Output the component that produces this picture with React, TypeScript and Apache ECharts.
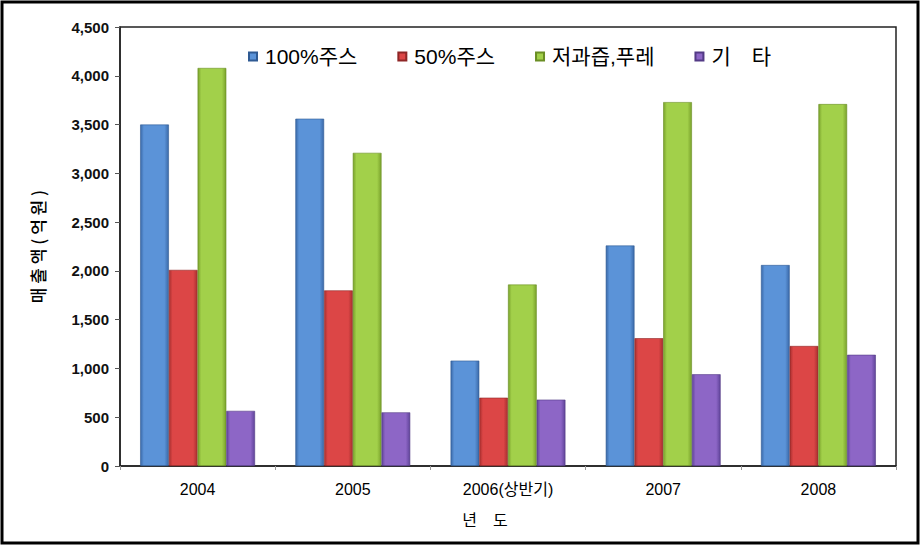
import React, { useEffect, useRef } from "react";
import * as echarts from "echarts";

const categories = ["2004", "2005", "2006(상반기)", "2007", "2008"];
const seriesNames = ["100%주스", "50%주스", "저과즙,푸레", "기　타"];
const juice100 = [3500, 3560, 1080, 2260, 2060];
const juice50 = [2010, 1800, 700, 1310, 1230];
const lowJuice = [4080, 3210, 1860, 3730, 3710];
const others = [565, 550, 680, 940, 1140];
const yTicks = { min: 0, max: 4500, interval: 500 };

const palette = [
  { dark: "#3a69a8", light: "#5b93d8", border: "#2f5a93" },
  { dark: "#a82f2f", light: "#dc4646", border: "#8e2626" },
  { dark: "#7aa22c", light: "#a2d04a", border: "#6a8e24" },
  { dark: "#60449a", light: "#8d66c6", border: "#533a85" },
];

function grad(c: { dark: string; light: string }) {
  return new echarts.graphic.LinearGradient(0, 0, 1, 0, [
    { offset: 0, color: c.dark },
    { offset: 0.12, color: c.light },
    { offset: 0.85, color: c.light },
    { offset: 1, color: c.dark },
  ]);
}

export default function App() {
  const ref = useRef<HTMLDivElement>(null);
  useEffect(() => {
    if (!ref.current) return;
    const chart = echarts.init(ref.current, null, { renderer: "svg" });
    const data = [juice100, juice50, lowJuice, others];
    const font = "'Liberation Sans', Arial, 'Noto Sans CJK KR', sans-serif";
    chart.setOption({
      animation: false,
      backgroundColor: "#ffffff",
      textStyle: { fontFamily: font },
      legend: {
        left: 248,
        top: 46,
        padding: 0,
        itemWidth: 8,
        itemHeight: 8,
        itemGap: 40,
        icon: "rect",
        textStyle: { fontSize: 21, color: "#000", fontFamily: font, padding: [0, 0, 0, 3] },
        data: seriesNames,
      },
      grid: {
        left: 120,
        right: 26,
        top: 27,
        bottom: 81,
        show: true,
        borderColor: "#222",
        borderWidth: 1.5,
        containLabel: false,
      },
      xAxis: {
        type: "category",
        data: categories,
        name: "년　도",
        nameLocation: "middle",
        nameGap: 45,
        nameTextStyle: {
          fontSize: 16,
          color: "#000",
          fontFamily: "'Noto Sans CJK KR', sans-serif",
          padding: [0, 46, 0, 0],
        },
        axisLine: { lineStyle: { color: "#222", width: 1.5 } },
        axisTick: { show: true, length: 4, lineStyle: { color: "#999" } },
        axisLabel: {
          fontSize: 16,
          color: "#000",
          margin: 15,
          fontFamily: "'Liberation Sans Narrow', 'Liberation Sans', 'Noto Sans CJK KR', sans-serif",
        },
      },
      yAxis: {
        type: "value",
        min: yTicks.min,
        max: yTicks.max,
        interval: yTicks.interval,
        name: "매 출 액 ( 억 원 )",
        nameLocation: "middle",
        nameGap: 74,
        nameTextStyle: {
          fontSize: 17,
          color: "#000",
          fontWeight: 500,
          fontFamily: "'Noto Sans CJK KR', sans-serif",
        },
        axisLine: { show: true, lineStyle: { color: "#222", width: 1.5 } },
        axisTick: { show: true, length: 5, lineStyle: { color: "#555" } },
        splitLine: { show: false },
        axisLabel: {
          fontSize: 15,
          fontWeight: "bold",
          color: "#111",
          margin: 11,
          formatter: (v: number) => v.toLocaleString("en-US"),
        },
      },
      series: seriesNames.map((name, i) => ({
        name,
        type: "bar",
        data: data[i],
        barGap: "0%",
        barCategoryGap: "26%",
        itemStyle: {
          color: grad(palette[i]),
          borderColor: palette[i].border,
          borderWidth: 0.6,
        },
      })),
      graphic: [
        {
          type: "rect",
          shape: { x: 2, y: 2, width: 916, height: 541 },
          style: { fill: "none", stroke: "#000", lineWidth: 3 },
          silent: true,
          z: 100,
        },
      ],
    });
    return () => chart.dispose();
  }, []);
  return (
    <div
      ref={ref}
      style={{ position: "absolute", left: 0, top: 0, width: 922, height: 547 }}
    />
  );
}
